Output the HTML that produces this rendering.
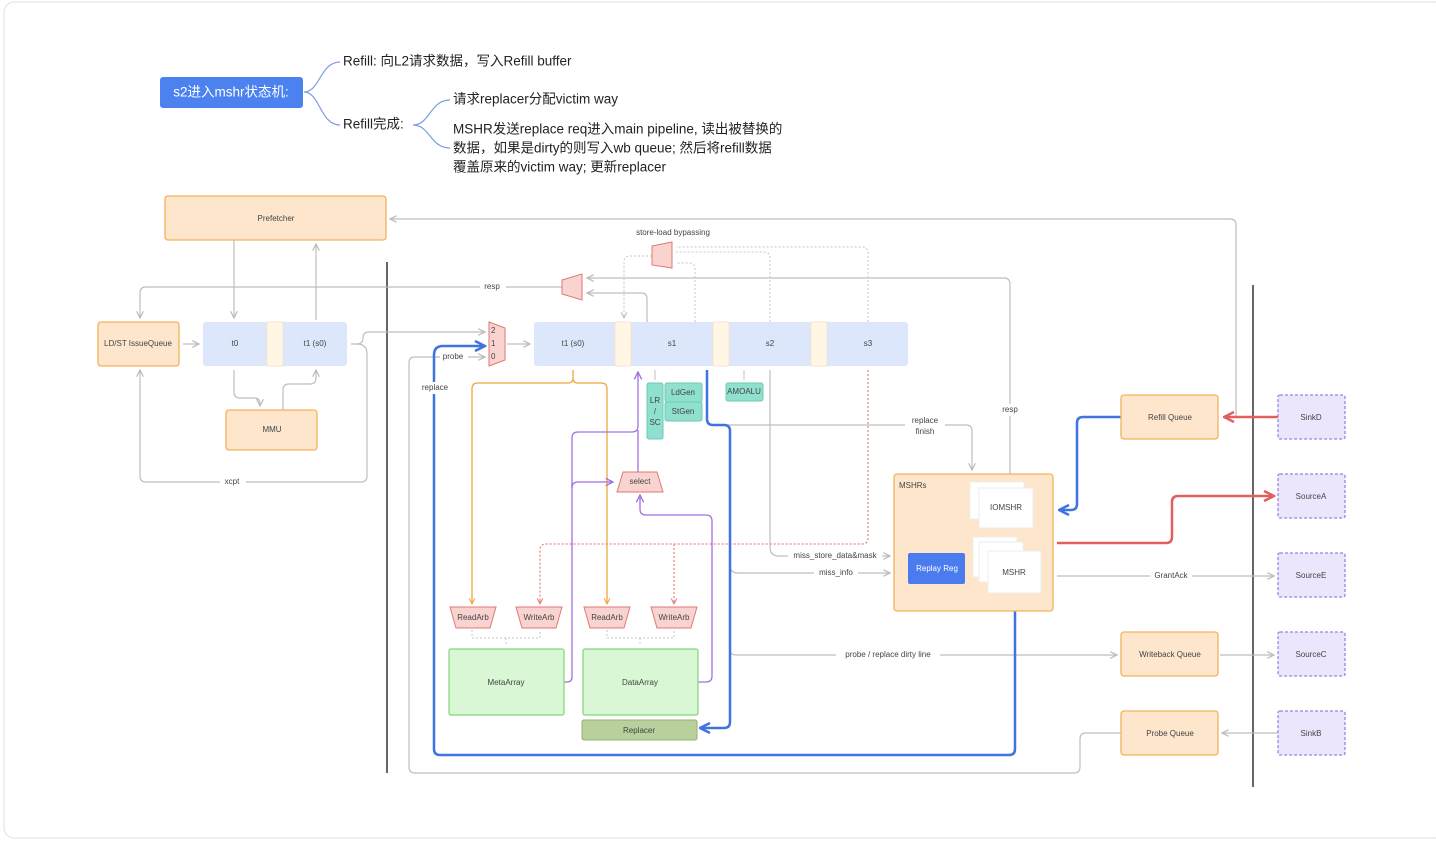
<!DOCTYPE html>
<html><head><meta charset="utf-8"><style>
html,body{margin:0;padding:0;background:#fff;}
svg{display:block;font-family:"Liberation Sans","Noto Sans CJK SC",sans-serif;}
.l{fill:none;stroke:#bdbdbd;stroke-width:1.2}
.t{font-size:8px;fill:#444;text-anchor:middle;dominant-baseline:middle}
.o{fill:#fde6cc;stroke:#f2b25c;stroke-width:1.3}
.p{fill:#ece6fc;stroke:#9d80e2;stroke-width:1.3;stroke-dasharray:3 2}
.m{fill:#f9d3d0;stroke:#e07a74;stroke-width:1}
.g{fill:#8fe0cf;stroke:#6ccab6;stroke-width:1}
.mm{font-size:13.5px;fill:#222;dominant-baseline:middle}
</style></head><body>
<svg width="1436" height="841" viewBox="0 0 1436 841">
<defs>
<marker id="a" viewBox="0 0 10 10" refX="9" refY="5" markerWidth="7" markerHeight="7" orient="auto-start-reverse"><path d="M1 1L9 5L1 9" fill="none" stroke="#bdbdbd" stroke-width="1.5"/></marker>
<marker id="ab" viewBox="0 0 10 10" refX="9" refY="5" markerWidth="5" markerHeight="5" orient="auto"><path d="M1 1L9 5L1 9" fill="none" stroke="#3f74e0" stroke-width="2"/></marker>
<marker id="ar" viewBox="0 0 10 10" refX="9" refY="5" markerWidth="5" markerHeight="5" orient="auto"><path d="M1 1L9 5L1 9" fill="none" stroke="#e06060" stroke-width="2"/></marker>
<marker id="ao" viewBox="0 0 10 10" refX="9" refY="5" markerWidth="7" markerHeight="7" orient="auto"><path d="M1 1L9 5L1 9" fill="none" stroke="#f0a63a" stroke-width="1.5"/></marker>
<marker id="ap" viewBox="0 0 10 10" refX="9" refY="5" markerWidth="7" markerHeight="7" orient="auto"><path d="M1 1L9 5L1 9" fill="none" stroke="#a070e0" stroke-width="1.5"/></marker>
<marker id="ad" viewBox="0 0 10 10" refX="9" refY="5" markerWidth="7" markerHeight="7" orient="auto"><path d="M1 1L9 5L1 9" fill="none" stroke="#e88080" stroke-width="1.5"/></marker>
</defs>
<rect x="4" y="2" width="1440" height="836" rx="10" fill="#fff" stroke="#e0e0e0"/>

<rect x="160" y="77" width="143" height="31" rx="3" fill="#4c82f0"/>
<text x="231" y="93" font-size="13.5" fill="#fff" text-anchor="middle" dominant-baseline="middle">s2进入mshr状态机:</text>
<path d="M304 92 C320 92,320 62,340 62 M304 92 C320 92,320 125,340 125" fill="none" stroke="#7b9de0" stroke-width="1.2"/>
<text class="mm" x="343" y="62">Refill: 向L2请求数据，写入Refill buffer</text>
<text class="mm" x="343" y="125">Refill完成:</text>
<path d="M413 125 C430 125,430 100,450 100 M413 125 C430 125,430 148,450 148" fill="none" stroke="#7b9de0" stroke-width="1.2"/>
<text class="mm" x="453" y="100">请求replacer分配victim way</text>
<text class="mm" x="453" y="130">MSHR发送replace req进入main pipeline, 读出被替换的</text>
<text class="mm" x="453" y="149">数据，如果是dirty的则写入wb queue; 然后将refill数据</text>
<text class="mm" x="453" y="168">覆盖原来的victim way; 更新replacer</text>

<line x1="387" y1="262" x2="387" y2="773" stroke="#333" stroke-width="1.5"/>
<line x1="1253" y1="285" x2="1253" y2="787" stroke="#333" stroke-width="1.5"/>

<path class="l" d="M1236 417V225q0-6-6-6H390" marker-end="url(#a)"/>
<path class="l" d="M234 240V318" marker-end="url(#a)"/>
<path class="l" d="M316 320V244" marker-end="url(#a)"/>
<path class="l" d="M1010 474V284q0-6-6-6H587" marker-end="url(#a)"/>
<path class="l" d="M647 322V299q0-6-6-6H587" marker-end="url(#a)"/>
<path class="l" d="M562 287H146q-6 0-6 6V318" marker-end="url(#a)"/>
<rect x="480" y="281" width="26" height="12" fill="#fff"/><text class="t" x="492" y="287">resp</text>
<path d="M695 322V269q0-6-6-6H676 M770 322V258q0-6-6-6H676 M868 322V253q0-6-6-6H676" fill="none" stroke="#c4c4c4" stroke-dasharray="2 2"/>
<path d="M652 256H630q-6 0-6 6V318" fill="none" stroke="#c4c4c4" stroke-dasharray="2 2" marker-end="url(#a)"/>
<text class="t" x="673" y="233">store-load bypassing</text>
<path class="l" d="M351 344h6q6 0 6-6v0q0-6 6-6H485" marker-end="url(#a)"/>
<path class="l" d="M357 344q10 0 10 10V476q0 6-6 6H146q-6 0-6-6V370" marker-end="url(#a)"/>
<rect x="220" y="476" width="26" height="12" fill="#fff"/><text class="t" x="232" y="482">xcpt</text>
<path class="l" d="M1121 733H1086q-6 0-6 6V767q0 6-6 6H415q-6 0-6-6V363q0-6 6-6H485" marker-end="url(#a)"/>
<rect x="440" y="351" width="28" height="12" fill="#fff"/><text class="t" x="453" y="357">probe</text>
<path class="l" d="M507 344H530" marker-end="url(#a)"/>
<path class="l" d="M183 344H199" marker-end="url(#a)"/>
<path class="l" d="M234 370V392q0 6 6 6h14q6 0 6 6V406" marker-end="url(#a)"/>
<path class="l" d="M283 410V390q0-6 6-6h21q6 0 6-6V370" marker-end="url(#a)"/>
<path class="l" d="M770 370V547q0 9 9 9H890" marker-end="url(#a)"/>
<rect x="788" y="550" width="94" height="12" fill="#fff"/><text class="t" x="835" y="556">miss_store_data&amp;mask</text>
<path class="l" d="M730 430V565q0 8 8 8H890" marker-end="url(#a)"/>
<rect x="814" y="567" width="44" height="12" fill="#fff"/><text class="t" x="836" y="573">miss_info</text>
<path class="l" d="M730 560V649q0 6 6 6H1117" marker-end="url(#a)"/>
<rect x="836" y="649" width="104" height="12" fill="#fff"/><text class="t" x="888" y="655">probe / replace dirty line</text>
<path class="l" d="M722 425H966q6 0 6 6V470" marker-end="url(#a)"/>
<rect x="905" y="414" width="40" height="24" fill="#fff"/><text class="t" x="925" y="421">replace</text><text class="t" x="925" y="432">finish</text>
<rect x="996" y="404" width="28" height="12" fill="#fff"/><text class="t" x="1010" y="410">resp</text>
<path class="l" d="M1057 576H1274" marker-end="url(#a)"/>
<rect x="1150" y="570" width="42" height="12" fill="#fff"/><text class="t" x="1171" y="576">GrantAck</text>
<path class="l" d="M1220 655H1274" marker-end="url(#a)"/>
<path class="l" d="M1278 733H1222" marker-end="url(#a)"/>
<path d="M655 370V380 M744 370V380" stroke="#ccc" stroke-width="1.2"/>

<path d="M573 370V378q0 5 5 5H601q6 0 6 6V604 M573 378q0 5-5 5H478q-6 0-6 6V604" fill="none" stroke="#f0a63a" stroke-width="1.3"/>
<path d="M472 600V604" stroke="#f0a63a" marker-end="url(#ao)"/>
<path d="M607 600V604" stroke="#f0a63a" marker-end="url(#ao)"/>
<path d="M868 370V538q0 6-6 6H546q-6 0-6 6V604 M674 544V604" fill="none" stroke="#e88080" stroke-width="1.2" stroke-dasharray="2 2"/>
<path d="M540 600V604" stroke="#e88080" marker-end="url(#ad)"/>
<path d="M674 600V604" stroke="#e88080" marker-end="url(#ad)"/>
<path d="M564 682h3q5 0 5-5V438q0-6 6-6H632q6 0 6-6V372" fill="none" stroke="#a070e0" stroke-width="1.3" marker-end="url(#ap)"/>
<path d="M572 488q0-6 6-6H613" fill="none" stroke="#a070e0" stroke-width="1.3" marker-end="url(#ap)"/>
<path d="M638 472V430" fill="none" stroke="#a070e0" stroke-width="1.3"/>
<path d="M698 682h8q6 0 6-6V521q0-6-6-6H646q-6 0-6-6V495" fill="none" stroke="#a070e0" stroke-width="1.3" marker-end="url(#ap)"/>
<path d="M472 630V638H540V630 M506 638V646 M607 630V638H674V630 M640 638V646" fill="none" stroke="#c4c4c4" stroke-dasharray="2 2"/>

<path d="M1015 595V749q0 6-6 6H440q-6 0-6-6V355q0-9 9-9H485" fill="none" stroke="#3f74e0" stroke-width="2.5" marker-end="url(#ab)"/>
<rect x="418" y="382" width="34" height="12" fill="#fff"/><text class="t" x="435" y="388">replace</text>
<path d="M707 370V419q0 6 6 6h11q6 0 6 6V722q0 6-6 6H700" fill="none" stroke="#3f74e0" stroke-width="2.5" marker-end="url(#ab)"/>
<path d="M1121 417H1083q-6 0-6 6V504q0 6-6 6H1059" fill="none" stroke="#3f74e0" stroke-width="2.5" marker-end="url(#ab)"/>
<path d="M1278 417H1224" fill="none" stroke="#e06060" stroke-width="2.5" marker-end="url(#ar)"/>
<path d="M1057 543H1166q6 0 6-6V502q0-6 6-6H1274" fill="none" stroke="#e06060" stroke-width="2.5" marker-end="url(#ar)"/>

<rect class="o" x="165" y="196" width="221" height="44" rx="3"/><text class="t" x="276" y="219">Prefetcher</text>
<rect class="o" x="98" y="322" width="81" height="44" rx="3"/><text class="t" x="138" y="344">LD/ST IssueQueue</text>
<rect x="203" y="322" width="144" height="44" rx="3" fill="#dde7fb"/>
<rect x="267" y="322" width="16" height="44" fill="#fff6e6" stroke="#f4e2c2" stroke-width="0.8"/>
<text class="t" x="235" y="344">t0</text><text class="t" x="315" y="344">t1 (s0)</text>
<rect class="o" x="226" y="410" width="91" height="40" rx="3"/><text class="t" x="272" y="430">MMU</text>

<path class="m" d="M489 322L505 328V360L489 366Z"/>
<text x="491" y="331" font-size="8" fill="#444" dominant-baseline="middle">2</text>
<text x="491" y="344" font-size="8" fill="#444" dominant-baseline="middle">1</text>
<text x="491" y="357" font-size="8" fill="#444" dominant-baseline="middle">0</text>
<path class="m" d="M562 280L582 274V300L562 294Z"/>
<path class="m" d="M652 246L672 242V268L652 265Z"/>

<rect x="534" y="322" width="374" height="44" rx="3" fill="#dde7fb"/>
<rect x="615" y="322" width="16" height="44" fill="#fff6e6" stroke="#f4e2c2" stroke-width="0.8"/>
<rect x="713" y="322" width="16" height="44" fill="#fff6e6" stroke="#f4e2c2" stroke-width="0.8"/>
<rect x="811" y="322" width="16" height="44" fill="#fff6e6" stroke="#f4e2c2" stroke-width="0.8"/>
<text class="t" x="573" y="344">t1 (s0)</text><text class="t" x="672" y="344">s1</text><text class="t" x="770" y="344">s2</text><text class="t" x="868" y="344">s3</text>

<rect class="g" x="647" y="383" width="16" height="56" rx="2"/>
<text class="t" x="655" y="401">LR</text><text class="t" x="655" y="412">/</text><text class="t" x="655" y="423">SC</text>
<rect class="g" x="665" y="383" width="37" height="19" rx="2"/><text class="t" x="683" y="393">LdGen</text>
<rect class="g" x="665" y="402" width="37" height="19" rx="2"/><text class="t" x="683" y="412">StGen</text>
<rect class="g" x="726" y="383" width="37" height="18" rx="2"/><text class="t" x="744" y="392">AMOALU</text>

<path class="m" d="M623 472H657L663 492H617Z"/><text class="t" x="640" y="482">select</text>

<path class="m" d="M450 607H496L490 628H456Z"/><text class="t" x="473" y="618">ReadArb</text>
<path class="m" d="M516 607H562L556 628H522Z"/><text class="t" x="539" y="618">WriteArb</text>
<path class="m" d="M584 607H630L624 628H590Z"/><text class="t" x="607" y="618">ReadArb</text>
<path class="m" d="M651 607H697L691 628H657Z"/><text class="t" x="674" y="618">WriteArb</text>

<rect x="449" y="649" width="115" height="66" rx="2" fill="#d9f6d5" stroke="#80d67a" stroke-width="1.2"/><text class="t" x="506" y="683">MetaArray</text>
<rect x="583" y="649" width="115" height="66" rx="2" fill="#d9f6d5" stroke="#80d67a" stroke-width="1.2"/><text class="t" x="640" y="683">DataArray</text>
<rect x="582" y="720" width="115" height="20" rx="2" fill="#b9cf9c" stroke="#93b070" stroke-width="1"/><text class="t" x="639" y="731">Replacer</text>

<rect class="o" x="894" y="474" width="159" height="137" rx="3"/>
<text x="899" y="486" font-size="8" fill="#444" dominant-baseline="middle">MSHRs</text>
<rect x="970" y="482" width="54" height="37" fill="#fff" stroke="#eee"/>
<rect x="979" y="488" width="54" height="40" fill="#fff" stroke="#eee"/><text class="t" x="1006" y="508">IOMSHR</text>
<rect x="973" y="537" width="44" height="40" fill="#fff" stroke="#eee"/>
<rect x="979" y="542" width="44" height="40" fill="#fff" stroke="#eee"/>
<rect x="988" y="551" width="53" height="42" fill="#fff" stroke="#eee"/><text class="t" x="1014" y="573">MSHR</text>
<rect x="908" y="553" width="57" height="31" rx="2" fill="#4a7cf0"/><text class="t" x="937" y="569" style="fill:#fff">Replay Reg</text>

<rect class="o" x="1121" y="395" width="97" height="44" rx="3"/><text class="t" x="1170" y="418">Refill Queue</text>
<rect class="o" x="1121" y="632" width="97" height="44" rx="3"/><text class="t" x="1170" y="655">Writeback Queue</text>
<rect class="o" x="1121" y="711" width="97" height="44" rx="3"/><text class="t" x="1170" y="734">Probe Queue</text>

<rect class="p" x="1278" y="395" width="67" height="44" rx="2"/><text class="t" x="1311" y="418">SinkD</text>
<rect class="p" x="1278" y="474" width="67" height="44" rx="2"/><text class="t" x="1311" y="497">SourceA</text>
<rect class="p" x="1278" y="553" width="67" height="44" rx="2"/><text class="t" x="1311" y="576">SourceE</text>
<rect class="p" x="1278" y="632" width="67" height="44" rx="2"/><text class="t" x="1311" y="655">SourceC</text>
<rect class="p" x="1278" y="711" width="67" height="44" rx="2"/><text class="t" x="1311" y="734">SinkB</text>
</svg>
</body></html>
